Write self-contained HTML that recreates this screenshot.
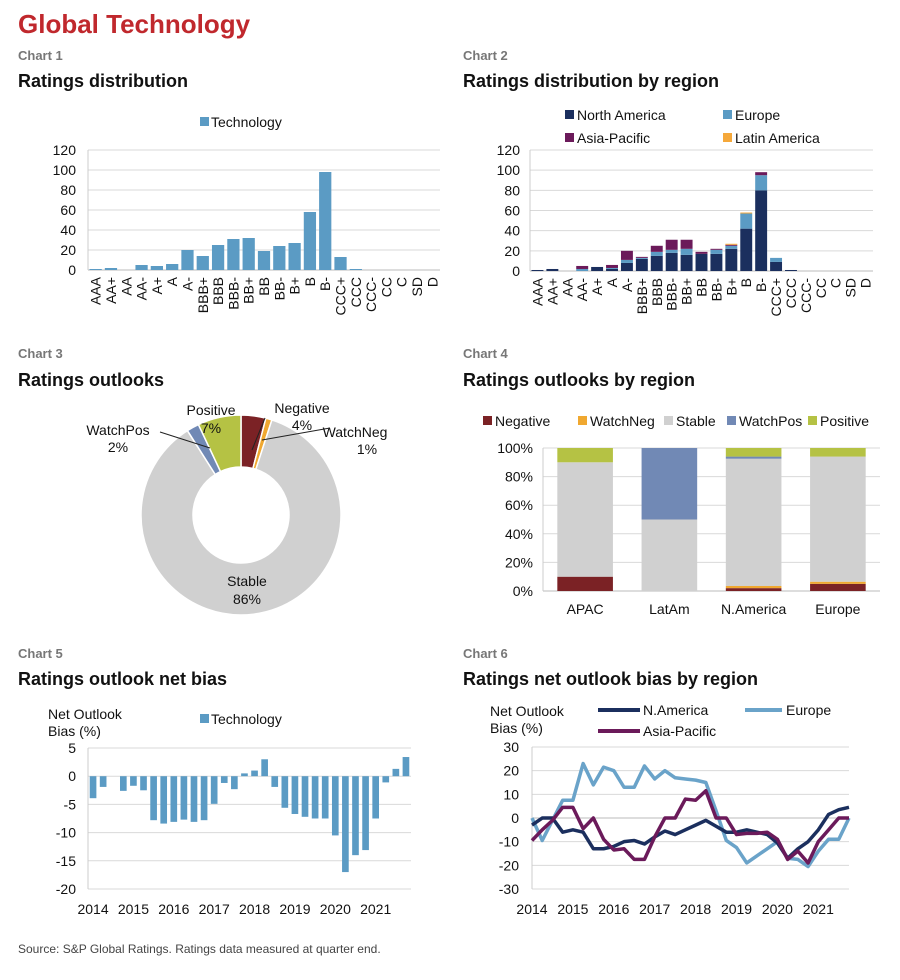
<!DOCTYPE html>
<html><head><meta charset="utf-8"><style>
body{margin:0;background:#fff;}
svg{display:block;font-family:"Liberation Sans",sans-serif;}
.t{font-size:14px;fill:#111;}
.h{font-size:18px;font-weight:bold;fill:#111;}
.c{font-size:13px;font-weight:bold;fill:#777;}
</style></head><body>
<svg id="s" width="900" height="980" viewBox="0 0 900 980">
<text x="18" y="33" font-size="26" font-weight="bold" fill="#c0282d">Global Technology</text>
<text class="c" x="18" y="60">Chart 1</text>
<text class="h" x="18" y="87">Ratings distribution</text>
<text class="c" x="463" y="60">Chart 2</text>
<text class="h" x="463" y="87">Ratings distribution by region</text>
<text class="c" x="18" y="358">Chart 3</text>
<text class="h" x="18" y="386">Ratings outlooks</text>
<text class="c" x="463" y="358">Chart 4</text>
<text class="h" x="463" y="386">Ratings outlooks by region</text>
<text class="c" x="18" y="658">Chart 5</text>
<text class="h" x="18" y="685">Ratings outlook net bias</text>
<text class="c" x="463" y="658">Chart 6</text>
<text class="h" x="463" y="685">Ratings net outlook bias by region</text>
<text x="18" y="953" font-size="12" fill="#444">Source: S&amp;P Global Ratings. Ratings data measured at quarter end.</text>

<g><rect x="200" y="117" width="9" height="9" fill="#5b9bc4"/><text class="t" x="211" y="127">Technology</text></g>
<g>
<rect x="565" y="110" width="9" height="9" fill="#1b2f5e"/><text class="t" x="577" y="120">North America</text>
<rect x="723" y="110" width="9" height="9" fill="#5b9bc4"/><text class="t" x="735" y="120">Europe</text>
<rect x="565" y="133" width="9" height="9" fill="#6b1a5a"/><text class="t" x="577" y="143">Asia-Pacific</text>
<rect x="723" y="133" width="9" height="9" fill="#f5a83a"/><text class="t" x="735" y="143">Latin America</text>
</g>
<g>
<rect x="483" y="416" width="9" height="9" fill="#7b2225"/><text class="t" x="495" y="426">Negative</text>
<rect x="578" y="416" width="9" height="9" fill="#f0a830"/><text class="t" x="590" y="426">WatchNeg</text>
<rect x="664" y="416" width="9" height="9" fill="#d0d0d0"/><text class="t" x="676" y="426">Stable</text>
<rect x="727" y="416" width="9" height="9" fill="#7189b5"/><text class="t" x="739" y="426">WatchPos</text>
<rect x="808" y="416" width="9" height="9" fill="#b5c244"/><text class="t" x="820" y="426">Positive</text>
</g>
<g>
<text class="t" x="48" y="719">Net Outlook</text><text class="t" x="48" y="736">Bias (%)</text>
<rect x="200" y="714" width="9" height="9" fill="#5b9bc4"/><text class="t" x="211" y="724">Technology</text></g>
<g>
<text class="t" x="490" y="716">Net Outlook</text><text class="t" x="490" y="733">Bias (%)</text>
<line x1="598" y1="710" x2="640" y2="710" stroke="#1b2f5e" stroke-width="4"/><text class="t" x="643" y="715">N.America</text>
<line x1="745" y1="710" x2="782" y2="710" stroke="#6aa3c9" stroke-width="4"/><text class="t" x="786" y="715">Europe</text>
<line x1="598" y1="731" x2="640" y2="731" stroke="#6b1a5a" stroke-width="4"/><text class="t" x="643" y="736">Asia-Pacific</text>
</g>
<g id="g1"></g>
<g id="g2"></g>
<g id="g3"></g>
<g id="g4"></g>
<g id="g5"></g>
<g id="g6"></g>
</svg>
<script>
const ratings=["AAA","AA+","AA","AA-","A+","A","A-","BBB+","BBB","BBB-","BB+","BB","BB-","B+","B","B-","CCC+","CCC","CCC-","CC","C","SD","D"];
const techCounts=[1,2,0,5,4,6,20,14,25,31,32,19,24,27,58,98,13,1,0,0,0,0,0];
const naCounts=[1,2,0,0,4,2,8,12,15,18,16,17,17,22,42,80,9,1,0,0,0,0,0];
const euCounts=[0,0,0,2,0,1,3,1,4,3,6,0,4,3,15,15,4,0,0,0,0,0,0];
const apCounts=[0,0,0,3,0,3,9,1,6,10,9,2,1,1,0,3,0,0,0,0,0,0,0];
const laCounts=[0,0,0,0,0,0,0,0,0,0,0,0,0,1,1,0,0,0,0,0,0,0,0];
const countTicks=[0,20,40,60,80,100,120];
const outlookNames=["Negative","WatchNeg","Stable","WatchPos","Positive"];
const outlookShares=[4,1,86,2,7];
const regions=["APAC","LatAm","N.America","Europe"];
const regNegative=[10,0,2,5];
const regWatchNeg=[0,0,1.5,1.5];
const regStable=[80,50,89,87.5];
const regWatchPos=[0,50,1.5,0];
const regPositive=[10,0,6,6];
const pctTicks=[0,20,40,60,80,100];
const techBias=[-3.9,-1.9,0,-2.6,-1.7,-2.5,-7.8,-8.4,-8.1,-7.7,-8.1,-7.8,-4.9,-1.2,-2.3,0.5,1.0,3.0,-1.9,-5.6,-6.7,-7.2,-7.5,-7.5,-10.5,-17,-14,-13.1,-7.5,-1.1,1.3,3.4];
const biasTicks=[5,0,-5,-10,-15,-20];
const yearLabels=["2014","2015","2016","2017","2018","2019","2020","2021"];
const naBias=[-3,0,0,-6,-5,-6,-13,-13,-12,-10,-9.5,-11,-8,-5.5,-7,-5,-3,-1,-3.5,-6,-6,-5,-6,-7,-10.5,-17,-13,-10,-5,1.5,3.5,4.5];
const euBias=[0,-9.5,-1,7.5,7.5,23,14,21.5,20,13,13,22,16.5,20,17,16.5,16,15,3,-9.5,-12.5,-19,-16,-13,-10,-17,-17.5,-20.5,-14,-9,-9,0];
const apBias=[-9.5,-5,-1,4.5,4.5,-4.5,0,-9,-13.5,-13,-17.5,-17.5,-8,0,0,8,7.5,11.5,0,0,-7,-6.5,-6.5,-6,-9,-17.5,-14,-19,-10,-5,0,0];
const regTicks=[30,20,10,0,-10,-20,-30];

const NS="http://www.w3.org/2000/svg";
function mk(p,tag,a){const e=document.createElementNS(NS,tag);for(const k in a)e.setAttribute(k,a[k]);p.appendChild(e);return e;}
function txt(p,x,y,s,anchor){const e=mk(p,"text",{x:x,y:y,"class":"t","text-anchor":anchor||"start"});e.textContent=s;return e;}

function ratingChart(g,L,R,T,B,stacks,colors,labX){
  const y=v=>B-(v/120)*(B-T);
  const bw=(R-L)/ratings.length;
  countTicks.forEach(t=>{const l=mk(g,"line",{x1:L,x2:R,y1:y(t),y2:y(t),stroke:t?"#d9d9d9":"#bbb"});
    
    
    const tx=txt(g,labX,y(t)+5,String(t),"end");
    
    });
  mk(g,"line",{x1:L,x2:L,y1:T,y2:B,stroke:"#ccc"});
  ratings.forEach((r,i)=>{
    const cx=L+bw*(i+0.5);let acc=0;
    stacks.forEach((arr,k)=>{const v=arr[i];if(v>0){const rc=mk(g,"rect",{x:cx-bw*0.4,width:bw*0.8,y:y(acc+v),height:y(acc)-y(acc+v),fill:colors[k]});
      
      }acc+=v;});
    const t=mk(g,"text",{"class":"t",transform:`translate(${cx+5},${B+7}) rotate(-90)`,"text-anchor":"end"});t.textContent=r;
    
    
  });
}
ratingChart(document.getElementById("g1"),88,440,150,270,[techCounts],["#5b9bc4"],76);
ratingChart(document.getElementById("g2"),530,873,150,271,[naCounts,euCounts,apCounts,laCounts],["#1b2f5e","#5b9bc4","#6b1a5a","#f5a83a"],520);

(function(){
  const g=document.getElementById("g3");const cx=241,cy=515,R=100,r=48;
  const cols=["#7b2225","#f0a830","#d0d0d0","#7189b5","#b5c244"];
  const tot=outlookShares.reduce((a,b)=>a+b,0);let a0=-Math.PI/2;
  outlookShares.forEach((v,i)=>{
    const a1=a0+v/tot*2*Math.PI;const big=(a1-a0)>Math.PI?1:0;
    const p=(rad,a)=>[cx+rad*Math.cos(a),cy+rad*Math.sin(a)];
    const [x0,y0]=p(R,a0),[x1,y1]=p(R,a1),[x2,y2]=p(r,a1),[x3,y3]=p(r,a0);
    const s=mk(g,"path",{d:`M${x0},${y0}A${R},${R} 0 ${big} 1 ${x1},${y1}L${x2},${y2}A${r},${r} 0 ${big} 0 ${x3},${y3}Z`,fill:cols[i],stroke:"#fff","stroke-width":1.5});
    
    
    a0=a1;});
  const labs=[["Positive",211,415],["7%",211,433],["Negative",302,413],["4%",302,430],["WatchNeg",355,437],["1%",367,454],["WatchPos",118,435],["2%",118,452],["Stable",247,586],["86%",247,604]];
  labs.forEach(l=>{const t=txt(g,l[1],l[2],l[0],"middle");
    
    });
  mk(g,"line",{x1:265,y1:418,x2:252,y2:450,stroke:"#222"});
  mk(g,"line",{x1:330,y1:428,x2:262,y2:440,stroke:"#222"});
  mk(g,"line",{x1:160,y1:432,x2:210,y2:448,stroke:"#222"});
})();

(function(){
  const g=document.getElementById("g4");const L=543,R=880,T=448,B=591;
  const y=v=>B-v/100*(B-T);
  pctTicks.forEach(t=>{mk(g,"line",{x1:L,x2:R,y1:y(t),y2:y(t),stroke:t?"#d9d9d9":"#bbb"});
    const tx=txt(g,533,y(t)+5,t+"%","end");
    
    });
  mk(g,"line",{x1:L,x2:L,y1:T,y2:B,stroke:"#ccc"});
  const series=[regNegative,regWatchNeg,regStable,regWatchPos,regPositive];
  const cols=["#7b2225","#f0a830","#d0d0d0","#7189b5","#b5c244"];
  const bw=(R-L)/regions.length;
  regions.forEach((rg,i)=>{const cx=L+bw*(i+0.5);let acc=0;
    series.forEach((s,k)=>{const v=s[i];if(v>0){const rc=mk(g,"rect",{x:cx-bw*0.33,width:bw*0.66,y:y(acc+v),height:y(acc)-y(acc+v),fill:cols[k]});
      
      }acc+=v;});
    const t=txt(g,cx,614,rg,"middle");
    
    });
})();

(function(){
  const g=document.getElementById("g5");const L=88,R=411,T=748,B=889;
  const y=v=>T+(5-v)/25*(B-T);
  biasTicks.forEach(t=>{mk(g,"line",{x1:L,x2:R,y1:y(t),y2:y(t),stroke:"#d9d9d9"});
    const tx=txt(g,76,y(t)+5,String(t),"end");
    
    });
  mk(g,"line",{x1:L,x2:L,y1:T,y2:B,stroke:"#ccc"});
  const bw=(R-L)/techBias.length;
  techBias.forEach((v,i)=>{const cx=L+bw*(i+0.5);if(v!==0){const rc=mk(g,"rect",{x:cx-bw*0.33,width:bw*0.66,y:Math.min(y(v),y(0)),height:Math.abs(y(v)-y(0)),fill:"#5b9bc4"});
    
    }});
  yearLabels.forEach((s,j)=>{const t=txt(g,L+bw*(4*j+0.5),914,s,"middle");
    
    });
})();

(function(){
  const g=document.getElementById("g6");const L=532,R=849,T=747,B=889;
  const y=v=>T+(30-v)/60*(B-T);
  const n=naBias.length;const x=i=>L+i*(R-L)/(n-1);
  regTicks.forEach(t=>{mk(g,"line",{x1:L,x2:R,y1:y(t),y2:y(t),stroke:t?"#d9d9d9":"#bbb"});
    const tx=txt(g,519,y(t)+5,String(t),"end");
    
    });
  mk(g,"line",{x1:L,x2:L,y1:T,y2:B,stroke:"#ccc"});
  [[euBias,"#6aa3c9","line-europe"],[naBias,"#1b2f5e","line-n-america"],[apBias,"#6b1a5a","line-asia-pacific"]].forEach(s=>{
    const pl=mk(g,"polyline",{points:s[0].map((v,i)=>x(i)+","+y(v)).join(" "),fill:"none",stroke:s[1],"stroke-width":3.5,"stroke-linejoin":"round"});
    
    });
  yearLabels.forEach((s,j)=>{const t=txt(g,x(4*j),914,s,"middle");
    
    });
})();
</script>
</body></html>
